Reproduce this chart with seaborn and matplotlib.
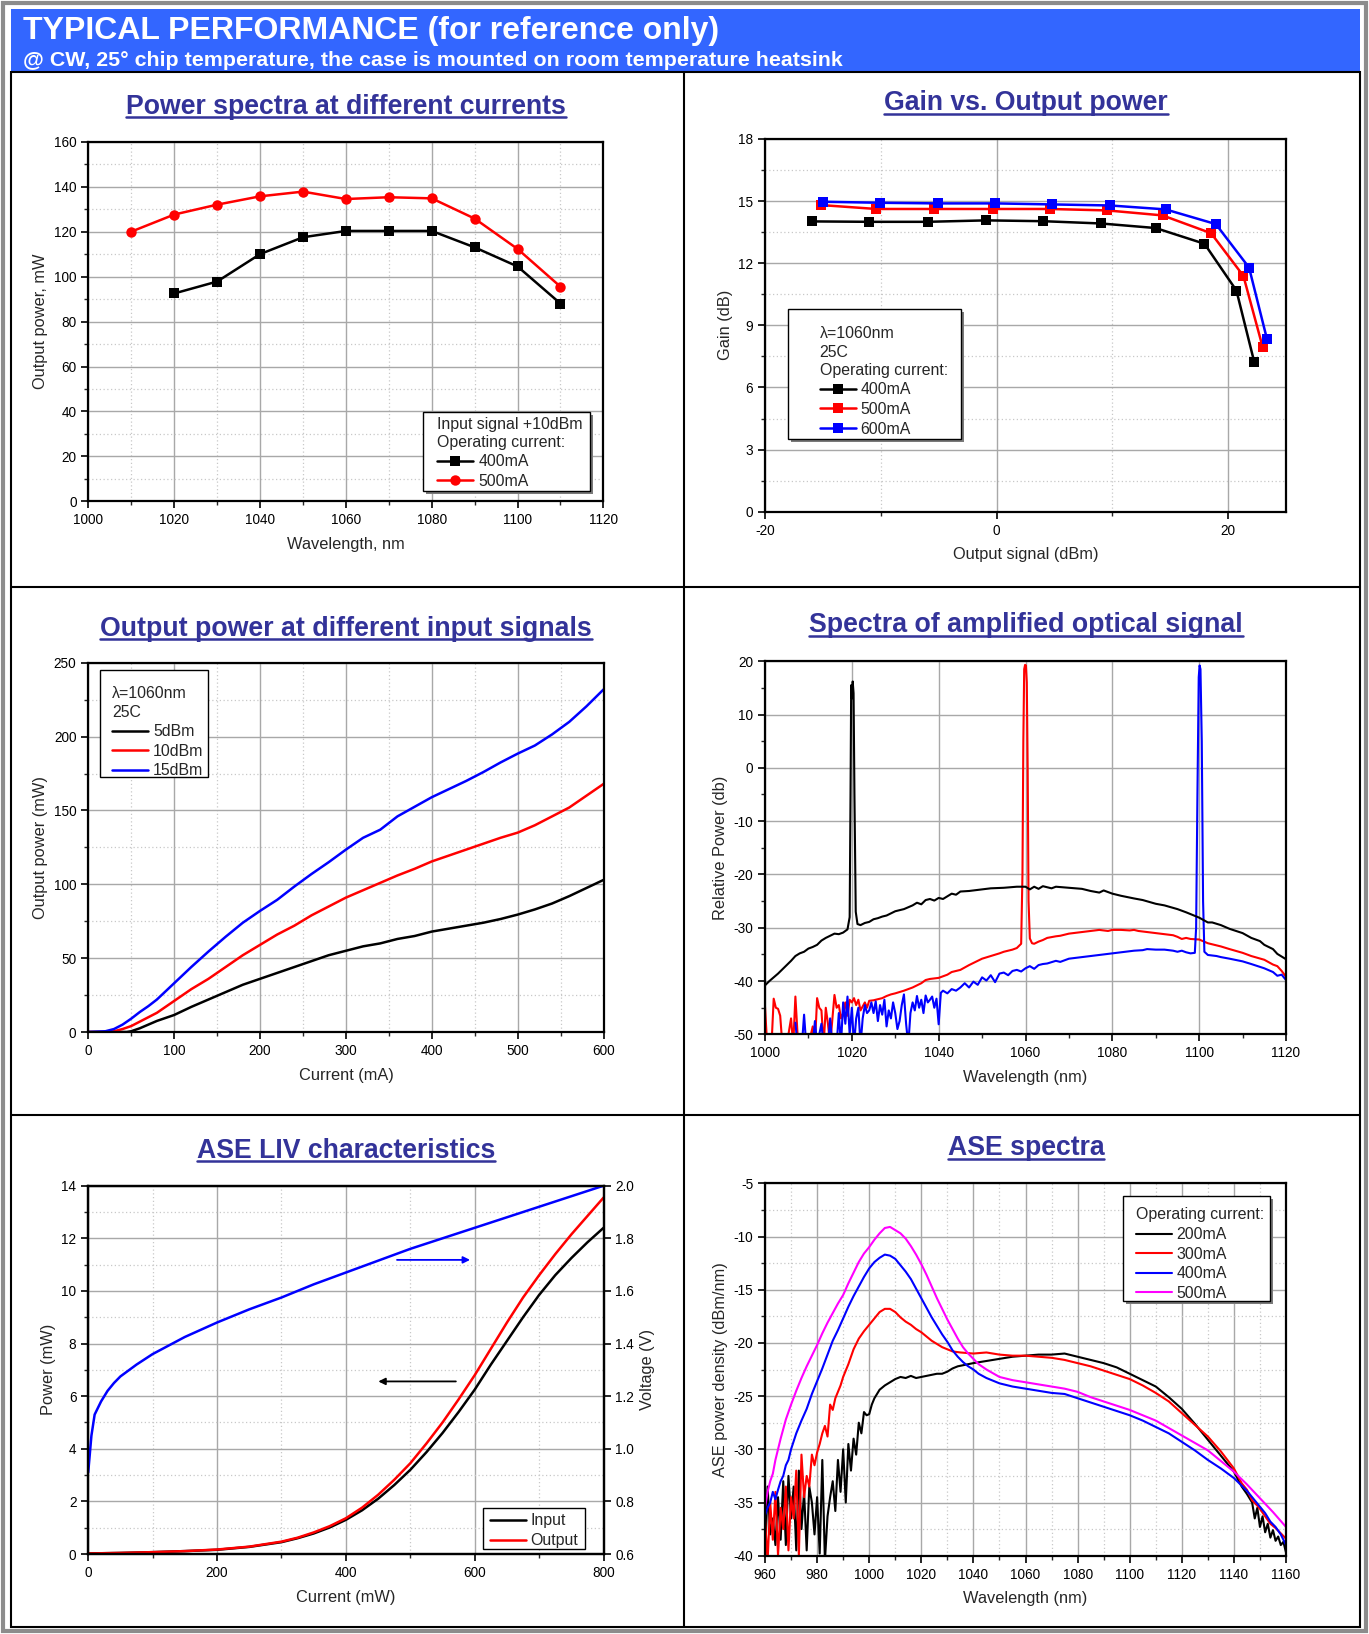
import numpy as np
import pandas as pd
import matplotlib
matplotlib.use("Agg")
import matplotlib.pyplot as plt
import seaborn as sns
from matplotlib.lines import Line2D
from matplotlib.patches import Rectangle
from matplotlib.ticker import MultipleLocator

# ---------------- DATA ----------------
# Panel 1: Power spectra at different currents
p1_wl_400 = [1020, 1030, 1040, 1050, 1060, 1070, 1080, 1090, 1100, 1110]
p1_pw_400 = [92.5, 97.8, 110.0, 117.5, 120.3, 120.3, 120.3, 113.0, 104.5, 88.0]
p1_wl_500 = [1010, 1020, 1030, 1040, 1050, 1060, 1070, 1080, 1090, 1100, 1110]
p1_pw_500 = [120.0, 127.6, 132.0, 135.7, 137.8, 134.5, 135.3, 134.8, 125.8, 112.3, 95.5]

# Panel 2: Gain vs output power
p2_x_400 = [-15.96, -10.98, -5.96, -0.9, 4.04, 9.02, 13.74, 17.96, 20.72, 22.26]
p2_g_400 = [14.02, 14.0, 14.0, 14.07, 14.03, 13.92, 13.7, 12.94, 10.68, 7.22]
p2_x_500 = [-15.17, -10.38, -5.36, -0.3, 4.64, 9.58, 14.34, 18.53, 21.32, 22.98]
p2_g_500 = [14.81, 14.62, 14.62, 14.62, 14.62, 14.55, 14.31, 13.45, 11.39, 7.96]
p2_x_600 = [-15.02, -10.04, -5.09, -0.11, 4.83, 9.81, 14.6, 18.94, 21.81, 23.36]
p2_g_600 = [14.97, 14.92, 14.89, 14.89, 14.84, 14.79, 14.6, 13.89, 11.79, 8.33]

# Panel 3: Output power at different input signals
p3_cur_15 = [0, 20, 30, 40, 50, 60, 70, 80, 90, 100, 120, 140, 160, 180, 200, 220, 240, 260, 280, 300,
             320, 340, 360, 380, 400, 420, 440, 460, 480, 500, 520, 540, 560, 580, 600]
p3_pw_15 = [0, 0.5, 2, 5, 9, 13.5, 17.5, 22, 27.5, 33, 44, 54.5, 64.5, 74, 82, 89.5, 98.5, 107, 115, 123.5,
            131.5, 137, 146, 152.5, 159, 164.5, 170, 176, 182.5, 188.5, 194, 201.5, 210, 220.5, 232]
p3_cur_10 = [0, 20, 30, 40, 50, 60, 70, 80, 90, 100, 120, 140, 160, 180, 200, 220, 240, 260, 280, 300,
             320, 340, 360, 380, 400, 420, 440, 460, 480, 500, 520, 540, 560, 580, 600]
p3_pw_10 = [0, 0, 0.5, 2, 4, 7, 10, 13, 17, 21, 29, 36, 44, 52, 59, 66, 72, 79, 85, 91,
            96, 101, 106, 110.5, 115.5, 119.5, 123.5, 127.5, 131.5, 135, 140, 146, 152, 160, 168]
p3_cur_5 = [0, 30, 45, 50, 60, 70, 80, 90, 100, 120, 140, 160, 180, 200, 220, 240, 260, 280, 300,
            320, 340, 360, 380, 400, 420, 440, 460, 480, 500, 520, 540, 560, 580, 600]
p3_pw_5 = [0, 0, 0, 0.5, 2.5, 5, 7.5, 9.5, 11.5, 17, 22, 27, 32, 36, 40, 44, 48, 52, 55,
           58, 60, 63, 65, 68, 70, 72, 74, 76.5, 79.5, 83, 87, 92, 97.5, 103]

# Panel 4: Spectra of amplified optical signal
p4_wl_blk = [1000, 1001, 1002, 1003, 1004, 1005, 1006, 1007, 1008, 1009, 1010, 1011, 1012, 1013, 1014, 1015,
             1016, 1017, 1018, 1019, 1019.5, 1019.7, 1019.85, 1020.0, 1020.2, 1020.4, 1020.6, 1020.9, 1021.3,
             1022, 1023, 1024, 1025, 1026, 1027, 1028, 1029, 1030, 1032, 1034, 1035, 1036, 1037, 1038, 1039,
             1040, 1041, 1042, 1043, 1044, 1045, 1047, 1050, 1052, 1055, 1058, 1060, 1061, 1062, 1063, 1064,
             1066, 1067, 1070, 1073, 1075, 1077, 1078, 1080, 1082, 1085, 1087, 1090, 1092, 1095, 1097, 1100,
             1102, 1103, 1105, 1107, 1110, 1112, 1114, 1115, 1117, 1118, 1120]
p4_db_blk = [-40.8, -40.0, -39.3, -38.6, -37.8, -37.0, -36.2, -35.3, -34.8, -34.5, -33.9, -33.6, -33.2, -32.4,
             -31.9, -31.5, -31.1, -31.2, -30.9, -30.3, -28.0, -5.0, 15.5, 13.0, 16.2, 14.0, -5.0, -27.0, -29.3,
             -29.5, -29.1, -28.9, -28.4, -28.2, -27.9, -27.7, -27.3, -26.9, -26.5, -25.8, -25.3, -25.6, -24.8,
             -24.6, -24.9, -24.4, -24.6, -24.1, -23.6, -23.8, -23.2, -23.1, -22.8, -22.6, -22.5, -22.3, -22.3,
             -22.8, -22.3, -22.7, -22.2, -22.6, -22.3, -22.5, -22.7, -23.1, -23.4, -23.0, -23.6, -24.0, -24.5,
             -24.8, -25.5, -25.8, -26.5, -27.1, -28.1, -29.0, -29.0, -29.5, -30.2, -31.0, -31.9, -32.5, -33.2,
             -34.0, -34.9, -35.9]
p4_wl_red = [1000, 1000.5, 1001.5, 1002, 1002.5, 1003, 1003.5, 1004, 1005, 1006, 1006.5, 1007, 1007.5, 1008,
             1009, 1010, 1011, 1011.5, 1012, 1012.5, 1013, 1013.5, 1014, 1014.5, 1015, 1016, 1016.5, 1017,
             1017.5, 1018, 1018.5, 1019, 1019.5, 1020, 1020.5, 1021, 1021.5, 1022, 1023, 1023.5, 1024, 1025,
             1026, 1027, 1028, 1029, 1030, 1032, 1034, 1035, 1036, 1037, 1038, 1040, 1042, 1043, 1045, 1047,
             1048, 1050, 1052, 1054, 1055, 1057, 1058, 1059, 1059.3, 1059.5, 1059.7, 1059.9, 1060.1, 1060.3,
             1060.5, 1060.7, 1061, 1061.5, 1062, 1063, 1064, 1065, 1067, 1068, 1070, 1072, 1074, 1075, 1077,
             1079, 1080, 1082, 1084, 1085, 1086, 1088, 1090, 1092, 1094, 1095, 1096, 1097, 1098, 1100, 1102,
             1104, 1105, 1107, 1110, 1112, 1115, 1117, 1118, 1119, 1120]
p4_db_red = [-44.8, -52, -52, -43.3, -45.0, -45.2, -46.5, -52, -52, -47.0, -52, -42.9, -50.0, -52, -52, -52,
             -48.5, -52, -43.2, -45.0, -45.5, -52, -45.0, -48.0, -52, -42.6, -45.0, -44.5, -47.0, -46.0, -44.0,
             -46.5, -43.5, -44.0, -43.2, -44.5, -43.5, -45.5, -44.0, -45.0, -43.7, -43.6, -43.4, -43.2, -42.8,
             -42.5, -42.3, -41.8, -41.2, -40.8, -40.4, -39.8, -39.6, -39.4, -38.8, -38.3, -37.9, -37.0, -36.6,
             -35.8, -35.3, -34.8, -34.5, -34.1, -33.8, -33.0, -20.0, 5.0, 18.5, 19.3, 19.2, 16.0, 0.0, -25.0,
             -32.0, -32.9, -33.0, -32.6, -32.3, -31.9, -31.6, -31.5, -31.1, -30.9, -30.7, -30.6, -30.4, -30.6,
             -30.4, -30.4, -30.5, -30.4, -30.6, -30.8, -31.0, -31.2, -31.4, -31.7, -32.1, -31.9, -32.1, -32.2,
             -32.9, -33.3, -33.5, -34.0, -34.7, -35.3, -36.0, -36.9, -37.2, -38.1, -39.2]
p4_wl_blu = [1007, 1007.5, 1008.5, 1009, 1009.5, 1011, 1011.5, 1012, 1013, 1013.5, 1014.5, 1015, 1015.5,
             1016.5, 1017, 1017.5, 1018, 1018.5, 1019, 1019.5, 1020, 1020.5, 1021, 1021.5, 1022, 1022.5, 1023,
             1023.5, 1024, 1024.5, 1025, 1025.5, 1026, 1026.5, 1027, 1027.5, 1028, 1028.5, 1029, 1029.5, 1030,
             1030.5, 1031, 1031.5, 1032, 1032.5, 1033, 1033.5, 1034, 1034.5, 1035, 1035.5, 1036, 1036.5, 1037,
             1037.5, 1038, 1038.5, 1039, 1039.5, 1040, 1040.5, 1041, 1042, 1043, 1044, 1045, 1046, 1047, 1048,
             1049, 1050, 1051, 1052, 1053, 1054, 1055, 1056, 1057, 1058, 1059, 1060, 1061, 1062, 1063, 1064,
             1065, 1067, 1068, 1070, 1072, 1075, 1077, 1080, 1082, 1085, 1087, 1088, 1090, 1092, 1094, 1095,
             1096, 1097, 1098, 1099, 1099.3, 1099.6, 1099.9, 1100.1, 1100.3, 1100.6, 1100.9, 1101.2, 1102,
             1103, 1104, 1105, 1107, 1110, 1112, 1115, 1117, 1118, 1119, 1120]
p4_db_blu = [-47.8, -52, -52, -46.3, -52, -52, -47.5, -52, -48.0, -52, -52, -47.0, -52, -52, -46.0, -52,
             -44.0, -48.0, -42.9, -50.0, -45.0, -52, -47.0, -45.0, -52, -47.0, -44.5, -46.0, -45.5, -44.0,
             -46.0, -43.8, -47.5, -44.5, -46.3, -43.5, -48.5, -45.5, -47.0, -44.0, -46.0, -49.0, -47.5, -44.5,
             -42.5, -48.0, -52, -46.0, -44.0, -45.5, -42.8, -45.0, -43.5, -46.0, -42.7, -44.0, -43.5, -42.9,
             -45.0, -43.3, -48.1, -42.2, -41.8, -42.3, -41.5, -41.8, -41.2, -40.4, -41.2, -40.1, -40.7, -39.3,
             -39.9, -38.9, -40.2, -38.6, -38.4, -38.9, -38.1, -37.9, -38.2, -37.6, -37.2, -37.7, -37.0, -36.8,
             -36.7, -36.2, -36.4, -35.8, -35.6, -35.3, -35.1, -34.8, -34.6, -34.3, -34.2, -34.0, -34.1, -34.1,
             -34.3, -34.5, -34.3, -34.6, -34.8, -34.7, -30.0, -5.0, 17.0, 19.2, 18.5, 5.0, -25.0, -34.5, -35.1,
             -35.2, -35.3, -35.5, -35.8, -36.3, -36.8, -37.6, -38.3, -39.0, -38.8, -39.8]

# Panel 5: ASE LIV characteristics
p5_cur = [0, 50, 100, 150, 200, 250, 300, 325, 350, 375, 400, 425, 450, 475, 500, 525, 550, 575, 600,
          625, 650, 675, 700, 725, 750, 775, 800]
p5_input = [0.02, 0.04, 0.07, 0.11, 0.16, 0.27, 0.45, 0.60, 0.78, 1.01, 1.30, 1.66, 2.10, 2.62, 3.20, 3.87,
            4.60, 5.40, 6.25, 7.20, 8.10, 9.00, 9.85, 10.60, 11.25, 11.85, 12.40]
p5_output = [0.02, 0.04, 0.07, 0.11, 0.17, 0.28, 0.47, 0.62, 0.82, 1.06, 1.36, 1.76, 2.25, 2.82, 3.45, 4.20,
             5.00, 5.88, 6.80, 7.80, 8.80, 9.75, 10.60, 11.40, 12.15, 12.85, 13.55]
p5_vcur = [0, 5, 10, 20, 30, 40, 50, 75, 100, 150, 200, 250, 300, 350, 400, 450, 500, 550, 600, 650, 700,
           750, 800]
p5_volt = [0.91, 1.05, 1.13, 1.18, 1.22, 1.25, 1.275, 1.32, 1.36, 1.425, 1.48, 1.53, 1.575, 1.625, 1.67,
           1.715, 1.76, 1.80, 1.84, 1.88, 1.92, 1.96, 2.00]

# Panel 6: ASE spectra
p6_wl_200 = [960, 961, 962, 963, 964, 965, 966, 967, 968, 969, 970, 971, 972, 973, 974, 975, 976, 977, 978,
             979, 980, 981, 982, 983, 984, 985, 986, 987, 988, 989, 990, 991, 992, 993, 994, 995, 996, 997,
             998, 999, 1000, 1001, 1002, 1003, 1004, 1005, 1006, 1008, 1010, 1012, 1014, 1016, 1018, 1020,
             1022, 1024, 1026, 1028, 1030, 1032, 1034, 1036, 1038, 1040, 1045, 1050, 1055, 1060, 1065, 1070,
             1075, 1080, 1085, 1090, 1095, 1100, 1105, 1110, 1115, 1120, 1125, 1130, 1135, 1140, 1143, 1145,
             1147, 1148, 1149, 1150, 1151, 1152, 1153, 1154, 1155, 1156, 1157, 1158, 1159, 1160]
p6_db_200 = [-40.5, -33.5, -38.0, -36.5, -39.0, -34.5, -38.5, -33.0, -39.0, -32.5, -36.5, -33.5, -39.5, -32.0,
             -37.5, -34.0, -39.5, -33.5, -35.0, -38.0, -34.5, -39.8, -31.0, -40.5, -36.3, -34.5, -33.0, -35.8,
             -31.0, -34.0, -30.0, -35.0, -29.5, -32.0, -29.0, -30.5, -27.5, -28.5, -26.5, -26.8, -26.7, -25.8,
             -25.2, -24.8, -24.4, -24.2, -24.0, -23.7, -23.4, -23.2, -23.3, -23.1, -23.3, -23.2, -23.1, -23.0,
             -22.9, -22.9, -22.7, -22.4, -22.2, -22.1, -22.0, -21.9, -21.7, -21.5, -21.3, -21.2, -21.1, -21.1,
             -21.0, -21.3, -21.6, -21.9, -22.3, -22.9, -23.5, -24.1, -25.1, -26.2, -27.6, -29.1, -30.6, -32.1,
             -33.5, -34.2, -35.0, -36.5, -35.5, -37.3, -36.3, -37.8, -37.0, -38.3, -37.6, -38.6, -38.2, -39.0,
             -38.7, -39.7]
p6_wl_300 = [960, 961, 962, 963, 964, 965, 966, 967, 968, 969, 970, 971, 972, 973, 974, 975, 976, 977, 978,
             979, 980, 981, 982, 983, 984, 985, 986, 987, 988, 989, 990, 992, 994, 996, 998, 1000, 1002, 1004,
             1006, 1008, 1010, 1012, 1014, 1016, 1018, 1020, 1022, 1024, 1026, 1028, 1030, 1032, 1035, 1040,
             1045, 1050, 1055, 1060, 1065, 1070, 1075, 1080, 1085, 1090, 1095, 1100, 1105, 1110, 1115, 1120,
             1125, 1130, 1135, 1140, 1143, 1145, 1147, 1149, 1150, 1152, 1154, 1156, 1158, 1160]
p6_db_300 = [-36.5, -40.5, -35.0, -38.5, -34.0, -40.0, -35.5, -37.5, -33.5, -39.5, -34.5, -36.5, -32.0, -40.0,
             -30.5, -34.5, -32.5, -33.5, -30.5, -31.5, -30.3, -29.5, -28.5, -27.8, -28.8, -25.8, -26.3, -25.2,
             -24.6, -24.0, -23.2, -22.0, -20.6, -19.6, -18.9, -18.3, -17.7, -17.1, -16.8, -16.8, -17.1, -17.6,
             -18.0, -18.3, -18.7, -19.0, -19.4, -19.8, -20.1, -20.4, -20.6, -20.8, -20.9, -21.0, -20.9, -21.1,
             -21.2, -21.2, -21.3, -21.4, -21.6, -21.9, -22.2, -22.6, -23.0, -23.4, -24.0, -24.7, -25.5, -26.6,
             -27.7, -28.8, -30.2, -31.8, -33.2, -33.8, -34.8, -35.3, -35.6, -36.3, -37.0, -37.4, -37.9, -38.4]
p6_wl_400 = [960, 961, 962, 963, 964, 965, 966, 967, 968, 969, 970, 972, 974, 976, 978, 980, 982, 984, 986,
             988, 990, 992, 994, 996, 998, 1000, 1002, 1004, 1006, 1008, 1010, 1012, 1014, 1016, 1018, 1020,
             1022, 1024, 1026, 1028, 1030, 1032, 1034, 1036, 1038, 1040, 1042, 1045, 1050, 1055, 1060, 1065,
             1070, 1075, 1080, 1085, 1090, 1095, 1100, 1105, 1110, 1115, 1120, 1125, 1130, 1135, 1140, 1145,
             1150, 1152, 1154, 1156, 1158, 1160]
p6_db_400 = [-36.2, -35.5, -35.0, -34.0, -34.7, -33.8, -33.0, -32.5, -31.5, -31.0, -30.0, -28.5, -27.3, -26.2,
             -24.8, -23.6, -22.4, -21.1, -19.8, -18.8, -17.7, -16.6, -15.6, -14.7, -13.8, -13.0, -12.4, -12.0,
             -11.7, -11.8, -12.1, -12.7, -13.3, -14.0, -14.9, -15.8, -16.7, -17.6, -18.4, -19.2, -19.9, -20.7,
             -21.3, -21.8, -22.2, -22.5, -22.9, -23.3, -23.8, -24.1, -24.3, -24.5, -24.7, -24.8, -25.2, -25.6,
             -26.0, -26.4, -26.8, -27.3, -27.9, -28.5, -29.3, -30.1, -31.0, -31.8, -32.7, -33.9, -35.4, -36.0,
             -36.8, -37.3, -38.0, -39.0]
p6_wl_500 = [960, 961, 962, 963, 964, 965, 966, 968, 970, 972, 974, 976, 978, 980, 982, 984, 986, 988, 990,
             992, 994, 996, 998, 1000, 1002, 1004, 1006, 1008, 1010, 1012, 1014, 1016, 1018, 1020, 1022, 1024,
             1026, 1028, 1030, 1032, 1034, 1036, 1038, 1040, 1042, 1045, 1050, 1055, 1060, 1065, 1070, 1075,
             1080, 1085, 1090, 1095, 1100, 1105, 1110, 1115, 1120, 1125, 1130, 1135, 1140, 1145, 1150, 1155,
             1160]
p6_db_500 = [-35.5, -34.0, -33.0, -32.3, -31.0, -30.0, -29.0, -27.2, -25.8, -24.5, -23.3, -22.2, -21.2, -20.2,
             -19.1, -18.1, -17.2, -16.3, -15.5, -14.4, -13.4, -12.4, -11.6, -11.0, -10.3, -9.7, -9.2, -9.1,
             -9.4, -9.7, -10.2, -10.9, -11.7, -12.6, -13.6, -14.7, -15.8, -16.8, -17.8, -18.7, -19.6, -20.4,
             -21.0, -21.5, -22.0, -22.5, -23.2, -23.5, -23.7, -23.9, -24.1, -24.3, -24.6, -25.1, -25.5, -25.9,
             -26.3, -26.8, -27.3, -28.0, -28.7, -29.4, -30.1, -31.1, -32.1, -33.3, -34.6, -35.9, -37.3]

# ---------------- STYLE ----------------
sns.set_style("ticks")
plt.rcParams['font.family'] = ['Liberation Sans', 'DejaVu Sans']
plt.rcParams['axes.unicode_minus'] = False
plt.rcParams['mathtext.default'] = 'regular'

W, H = 1369, 1634
fig = plt.figure(figsize=(W / 100, H / 100), dpi=100)
fig.patch.set_facecolor('white')


def fx(px):
    return px / W


def fy(py):
    return 1 - py / H


def add_axes(l, t, r, b):
    return fig.add_axes([fx(l), fy(b), fx(r) - fx(l), fy(t) - fy(b)])


BLK, RED, BLU, MAG = '#000000', '#FF0000', '#0000FF', '#FF00FF'
TICK_FS, LAB_FS, LEG_FS = 9.8, 11.8, 11.4
LEG_KW = dict(frameon=False, fontsize=LEG_FS, handlelength=2.3, handletextpad=0.3,
              labelspacing=0.29, borderpad=0, numpoints=1, borderaxespad=0)


def style_axes(ax, minor_grid=True):
    for s in ax.spines.values():
        s.set_color('black')
        s.set_linewidth(1.6)
    ax.grid(True, which='major', color='#a8a8a8', lw=1.0, ls='-')
    if minor_grid:
        ax.grid(True, which='minor', color='#c8c8c8', lw=0.9, ls=(0, (1, 2)))
    ax.set_axisbelow(True)
    ax.tick_params(which='major', direction='out', length=5, width=1.2, labelsize=TICK_FS, colors='black')
    ax.tick_params(which='minor', direction='out', length=3, width=1.0)


def draw_frame(ax, frame_px, shadow=False):
    x0, y0, x1, y1 = frame_px
    if shadow:
        ax.add_artist(Rectangle((fx(x0 + 3), fy(y1 + 3)), fx(x1) - fx(x0), fy(y0) - fy(y1),
                                fc='#7a7a7a', ec='none', transform=fig.transFigure, clip_on=False,
                                zorder=3.9))
    ax.add_artist(Rectangle((fx(x0), fy(y1)), fx(x1) - fx(x0), fy(y0) - fy(y1), fc='white', ec='black',
                            lw=1.0, transform=fig.transFigure, clip_on=False, zorder=4))


def box_legend(ax, title, frame_px, text_px, shadow=False, handles=None, labels=None):
    """frame_px: (x0, y0, x1, y1) in figure pixels (top-left origin); text_px: (x, ytop)."""
    draw_frame(ax, frame_px, shadow)
    if handles is None:
        handles, labels = ax.get_legend_handles_labels()
    leg = ax.legend(handles, labels, title=title, loc='upper left',
                    bbox_to_anchor=(fx(text_px[0]), fy(text_px[1])),
                    bbox_transform=fig.transFigure, title_fontsize=LEG_FS, alignment='left', **LEG_KW)
    if title:
        leg.get_title().set_linespacing(1.26)
    leg.set_zorder(5)
    return leg


# ---------------- FRAME ----------------
fig.add_artist(Rectangle((fx(3), fy(1631)), fx(1366) - fx(3), fy(3) - fy(1631), fill=False,
                         ec='#8c8c8c', lw=3, transform=fig.transFigure))
fig.add_artist(Rectangle((fx(11), fy(72)), fx(1360) - fx(11), fy(9) - fy(72), fc='#3366FF',
                         ec='none', transform=fig.transFigure))
fig.add_artist(Rectangle((fx(11), fy(1627)), fx(1360) - fx(11), fy(72) - fy(1627), fill=False,
                         ec='black', lw=1.5, transform=fig.transFigure))
fig.add_artist(Line2D([fx(683.5), fx(683.5)], [fy(72), fy(1627)], color='black', lw=1.5,
                      transform=fig.transFigure))
for yy in (586.6, 1114.8):
    fig.add_artist(Line2D([fx(11), fx(1360)], [fy(yy), fy(yy)], color='black', lw=1.5,
                          transform=fig.transFigure))

renderer = fig.canvas.get_renderer()


def fit_text(t, target_w):
    fs = t.get_fontsize()
    w = t.get_window_extent(renderer).width
    t.set_fontsize(fs * target_w / w)


hdr = fig.text(fx(23), fy(38.5), "TYPICAL PERFORMANCE (for reference only)", ha='left', va='baseline',
               fontsize=21, fontweight='bold', color='white')
fit_text(hdr, 695)
sub = fig.text(fx(23), fy(66), "@ CW, 25° chip temperature, the case is mounted on room temperature heatsink",
               ha='left', va='baseline', fontsize=13, fontweight='bold', color='white')
fit_text(sub, 815)


def utitle(text, cx, base_y, width):
    t = fig.text(fx(cx), fy(base_y), text, ha='center', va='baseline', fontsize=18,
                 fontweight='bold', color='#333399')
    fit_text(t, width)
    bb = t.get_window_extent(renderer)
    fs_px = t.get_fontsize() * 100 / 72
    uy = base_y + 0.14 * fs_px
    fig.add_artist(Line2D([bb.x0 / W, bb.x1 / W], [fy(uy), fy(uy)], color='#333399', lw=1.8,
                          transform=fig.transFigure))


utitle("Power spectra at different currents", 346, 113.5, 442)
utitle("Gain vs. Output power", 1026, 110.5, 284)
utitle("Output power at different input signals", 346, 635.5, 491)
utitle("Spectra of amplified optical signal", 1026, 632.5, 434)
utitle("ASE LIV characteristics", 346, 1157.5, 298)
utitle("ASE spectra", 1026, 1155, 157)

LPAD = 7

# ---------------- PANEL 1 ----------------
ax1 = add_axes(88.4, 141.7, 603.4, 501.4)
sns.lineplot(x=p1_wl_400, y=p1_pw_400, ax=ax1, color=BLK, lw=1.8, marker='s', markersize=7,
             markeredgewidth=0, label='400mA', errorbar=None)
sns.lineplot(x=p1_wl_500, y=p1_pw_500, ax=ax1, color=RED, lw=1.8, marker='o', markersize=7.5,
             markeredgewidth=0, label='500mA', errorbar=None)
ax1.set_xlim(1000, 1120)
ax1.set_ylim(0, 160)
ax1.xaxis.set_major_locator(MultipleLocator(20))
ax1.xaxis.set_minor_locator(MultipleLocator(10))
ax1.yaxis.set_major_locator(MultipleLocator(20))
ax1.yaxis.set_minor_locator(MultipleLocator(10))
style_axes(ax1)
ax1.set_xlabel("Wavelength, nm", fontsize=LAB_FS, labelpad=LPAD)
ax1.set_ylabel("Output power, mW", fontsize=LAB_FS)
box_legend(ax1, "Input signal +10dBm\nOperating current:", (423, 411.5, 589.7, 490.7), (437, 416.5),
           shadow=True)

# ---------------- PANEL 2 ----------------
ax2 = add_axes(765, 139, 1286, 511.7)
sns.lineplot(x=p2_x_400, y=p2_g_400, ax=ax2, color=BLK, lw=1.8, marker='s', markersize=7,
             markeredgewidth=0, label='400mA', errorbar=None)
sns.lineplot(x=p2_x_500, y=p2_g_500, ax=ax2, color=RED, lw=1.8, marker='s', markersize=7,
             markeredgewidth=0, label='500mA', errorbar=None)
sns.lineplot(x=p2_x_600, y=p2_g_600, ax=ax2, color=BLU, lw=1.8, marker='s', markersize=7,
             markeredgewidth=0, label='600mA', errorbar=None)
ax2.set_xlim(-20, 25)
ax2.set_ylim(0, 18)
ax2.xaxis.set_major_locator(MultipleLocator(20))
ax2.xaxis.set_minor_locator(MultipleLocator(10))
ax2.yaxis.set_major_locator(MultipleLocator(3))
ax2.yaxis.set_minor_locator(MultipleLocator(1.5))
style_axes(ax2)
ax2.set_xlabel("Output signal (dBm)", fontsize=LAB_FS, labelpad=LPAD)
ax2.set_ylabel("Gain (dB)", fontsize=LAB_FS)
box_legend(ax2, "λ=1060nm\n25C\nOperating current:", (787.7, 309.4, 960.6, 438.6), (819.5, 326.5),
           shadow=True)

# ---------------- PANEL 3 ----------------
ax3 = add_axes(88.2, 662.8, 603.6, 1032)
sns.lineplot(x=p3_cur_5, y=p3_pw_5, ax=ax3, color=BLK, lw=1.8, label='5dBm', errorbar=None)
sns.lineplot(x=p3_cur_10, y=p3_pw_10, ax=ax3, color=RED, lw=1.8, label='10dBm', errorbar=None)
sns.lineplot(x=p3_cur_15, y=p3_pw_15, ax=ax3, color=BLU, lw=1.8, label='15dBm', errorbar=None)
ax3.set_xlim(0, 600)
ax3.set_ylim(0, 250)
ax3.xaxis.set_major_locator(MultipleLocator(100))
ax3.xaxis.set_minor_locator(MultipleLocator(50))
ax3.yaxis.set_major_locator(MultipleLocator(50))
ax3.yaxis.set_minor_locator(MultipleLocator(25))
style_axes(ax3)
ax3.set_xlabel("Current (mA)", fontsize=LAB_FS, labelpad=LPAD)
ax3.set_ylabel("Output power (mW)", fontsize=LAB_FS)
box_legend(ax3, "λ=1060nm\n25C", (100, 670, 208.4, 777.3), (112, 686.5))

# ---------------- PANEL 4 ----------------
ax4 = add_axes(765, 661.2, 1286, 1034.4)
sns.lineplot(x=p4_wl_red, y=p4_db_red, ax=ax4, color=RED, lw=1.5, errorbar=None)
sns.lineplot(x=p4_wl_blu, y=p4_db_blu, ax=ax4, color=BLU, lw=1.5, errorbar=None)
sns.lineplot(x=p4_wl_blk, y=p4_db_blk, ax=ax4, color=BLK, lw=1.5, errorbar=None)
ax4.set_xlim(1000, 1120)
ax4.set_ylim(-50, 20)
ax4.xaxis.set_major_locator(MultipleLocator(20))
ax4.xaxis.set_minor_locator(MultipleLocator(10))
ax4.yaxis.set_major_locator(MultipleLocator(10))
ax4.yaxis.set_minor_locator(MultipleLocator(5))
style_axes(ax4, minor_grid=False)
ax4.set_xlabel("Wavelength (nm)", fontsize=LAB_FS, labelpad=LPAD)
ax4.set_ylabel("Relative Power (db)", fontsize=LAB_FS)

# ---------------- PANEL 5 ----------------
ax5 = add_axes(88.2, 1185.7, 603.6, 1554)
sns.lineplot(x=p5_cur, y=p5_input, ax=ax5, color=BLK, lw=1.8, label='Input', errorbar=None)
sns.lineplot(x=p5_cur, y=p5_output, ax=ax5, color=RED, lw=1.8, label='Output', errorbar=None)
ax5.set_xlim(0, 800)
ax5.set_ylim(0, 14)
ax5.xaxis.set_major_locator(MultipleLocator(200))
ax5.xaxis.set_minor_locator(MultipleLocator(100))
ax5.yaxis.set_major_locator(MultipleLocator(2))
ax5.yaxis.set_minor_locator(MultipleLocator(1))
style_axes(ax5)
ax5.set_xlabel("Current (mW)", fontsize=LAB_FS, labelpad=LPAD)
ax5.set_ylabel("Power (mW)", fontsize=LAB_FS)
ax5.annotate('', xy=(446, 6.56), xytext=(575, 6.56),
             arrowprops=dict(arrowstyle='-|>', color='black', lw=1.3, mutation_scale=10))
ax5.annotate('', xy=(597, 11.18), xytext=(475, 11.18),
             arrowprops=dict(arrowstyle='-|>', color=BLU, lw=1.3, mutation_scale=10))
h5, l5 = ax5.get_legend_handles_labels()
if ax5.get_legend() is not None:
    ax5.get_legend().remove()
ax5r = ax5.twinx()
sns.lineplot(x=p5_vcur, y=p5_volt, ax=ax5r, color=BLU, lw=1.8, errorbar=None)
ax5r.set_ylim(0.6, 2.0)
ax5r.yaxis.set_major_locator(MultipleLocator(0.2))
ax5r.yaxis.set_major_formatter(matplotlib.ticker.FormatStrFormatter('%.1f'))
ax5r.tick_params(which='major', direction='out', length=5, width=1.2, labelsize=TICK_FS, colors='black')
for s in ax5r.spines.values():
    s.set_color('black')
    s.set_linewidth(1.6)
ax5r.set_ylabel("Voltage (V)", fontsize=LAB_FS)
ax5r.set_xlim(0, 800)
box_legend(ax5r, None, (483.4, 1507.6, 584.5, 1549.3), (489.5, 1513.5), handles=h5, labels=l5)

# ---------------- PANEL 6 ----------------
ax6 = add_axes(765, 1183.3, 1286, 1555.7)
sns.lineplot(x=p6_wl_200, y=p6_db_200, ax=ax6, color=BLK, lw=1.5, label='200mA', errorbar=None)
sns.lineplot(x=p6_wl_300, y=p6_db_300, ax=ax6, color=RED, lw=1.5, label='300mA', errorbar=None)
sns.lineplot(x=p6_wl_400, y=p6_db_400, ax=ax6, color=BLU, lw=1.5, label='400mA', errorbar=None)
sns.lineplot(x=p6_wl_500, y=p6_db_500, ax=ax6, color=MAG, lw=1.5, label='500mA', errorbar=None)
ax6.set_xlim(960, 1160)
ax6.set_ylim(-40, -5)
ax6.xaxis.set_major_locator(MultipleLocator(20))
ax6.xaxis.set_minor_locator(MultipleLocator(10))
ax6.yaxis.set_major_locator(MultipleLocator(5))
ax6.yaxis.set_minor_locator(MultipleLocator(2.5))
style_axes(ax6)
ax6.set_xlabel("Wavelength (nm)", fontsize=LAB_FS, labelpad=LPAD)
ax6.set_ylabel("ASE power density (dBm/nm)", fontsize=LAB_FS)
box_legend(ax6, "Operating current:", (1123, 1196, 1270, 1301.4), (1135.5, 1207.5), shadow=True)

fig.savefig("out.png", dpi=100)
